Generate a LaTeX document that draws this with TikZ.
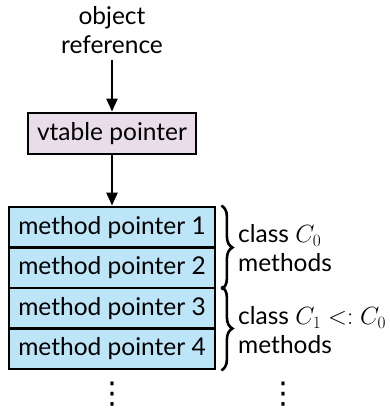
\documentclass[tikz,border=0pt]{standalone}
\usepackage{fontspec}
\setmainfont{Lato}
\newfontfamily\dvsans{DejaVu Sans}
\usetikzlibrary{arrows.meta,decorations.pathreplacing}
\definecolor{vtfill}{RGB}{232,221,233}
\definecolor{mpfill}{RGB}{189,229,248}
\begin{document}
\begin{tikzpicture}[x=1pt,y=-1pt,
  every node/.style={font=\fontsize{24.5}{29}\selectfont},
  vbox/.style={draw, line width=2.8pt, fill=vtfill, minimum width=168pt, minimum height=41pt, inner sep=0pt},
  mbox/.style={draw, line width=2.8pt, fill=mpfill, minimum width=206pt, minimum height=40.5pt, inner sep=0pt},
  arr/.style={line width=2.4pt, -{Triangle[length=13pt,width=11pt]}},
  brc/.style={line width=2.6pt, decorate, decoration={brace, amplitude=11pt}},
  lbl/.style={anchor=west, align=left, inner sep=0pt},
  dots/.style={inner sep=0pt, font=\dvsans\fontsize{30}{30}\selectfont}
]
\useasboundingbox (0,0) rectangle (390,410);
\node[align=center, inner sep=0pt] (obj) at (112,30) {object\\reference};
\node[vbox] (vt) at (112,133.5) {vtable pointer};
\node[mbox] (m1) at (112,227.25) {method pointer 1};
\node[mbox] (m2) at (112,267.75) {method pointer 2};
\node[mbox] (m3) at (112,308.25) {method pointer 3};
\node[mbox] (m4) at (112,348.75) {method pointer 4};
\draw[arr] (112,60) -- (vt.north);
\draw[arr] (vt.south) -- (m1.north);
\coordinate (b1t) at ([xshift=5pt]m1.north east);
\coordinate (b1b) at ([xshift=5pt]m2.south east);
\coordinate (b2t) at ([xshift=5pt]m3.north east);
\coordinate (b2b) at ([xshift=5pt]m4.south east);
\draw[brc] (b1t) -- (b1b);
\draw[brc] (b2t) -- (b2b);
\node[lbl] (l1) at (238,248) {class $C_0$\\methods};
\node[lbl] (l2) at (238,330) {class $C_1 <: C_0$\\methods};
\node[dots] (d1) at (112,394) {⋮};
\node[dots] (d2) at (283,394) {⋮};
\end{tikzpicture}
\end{document}
